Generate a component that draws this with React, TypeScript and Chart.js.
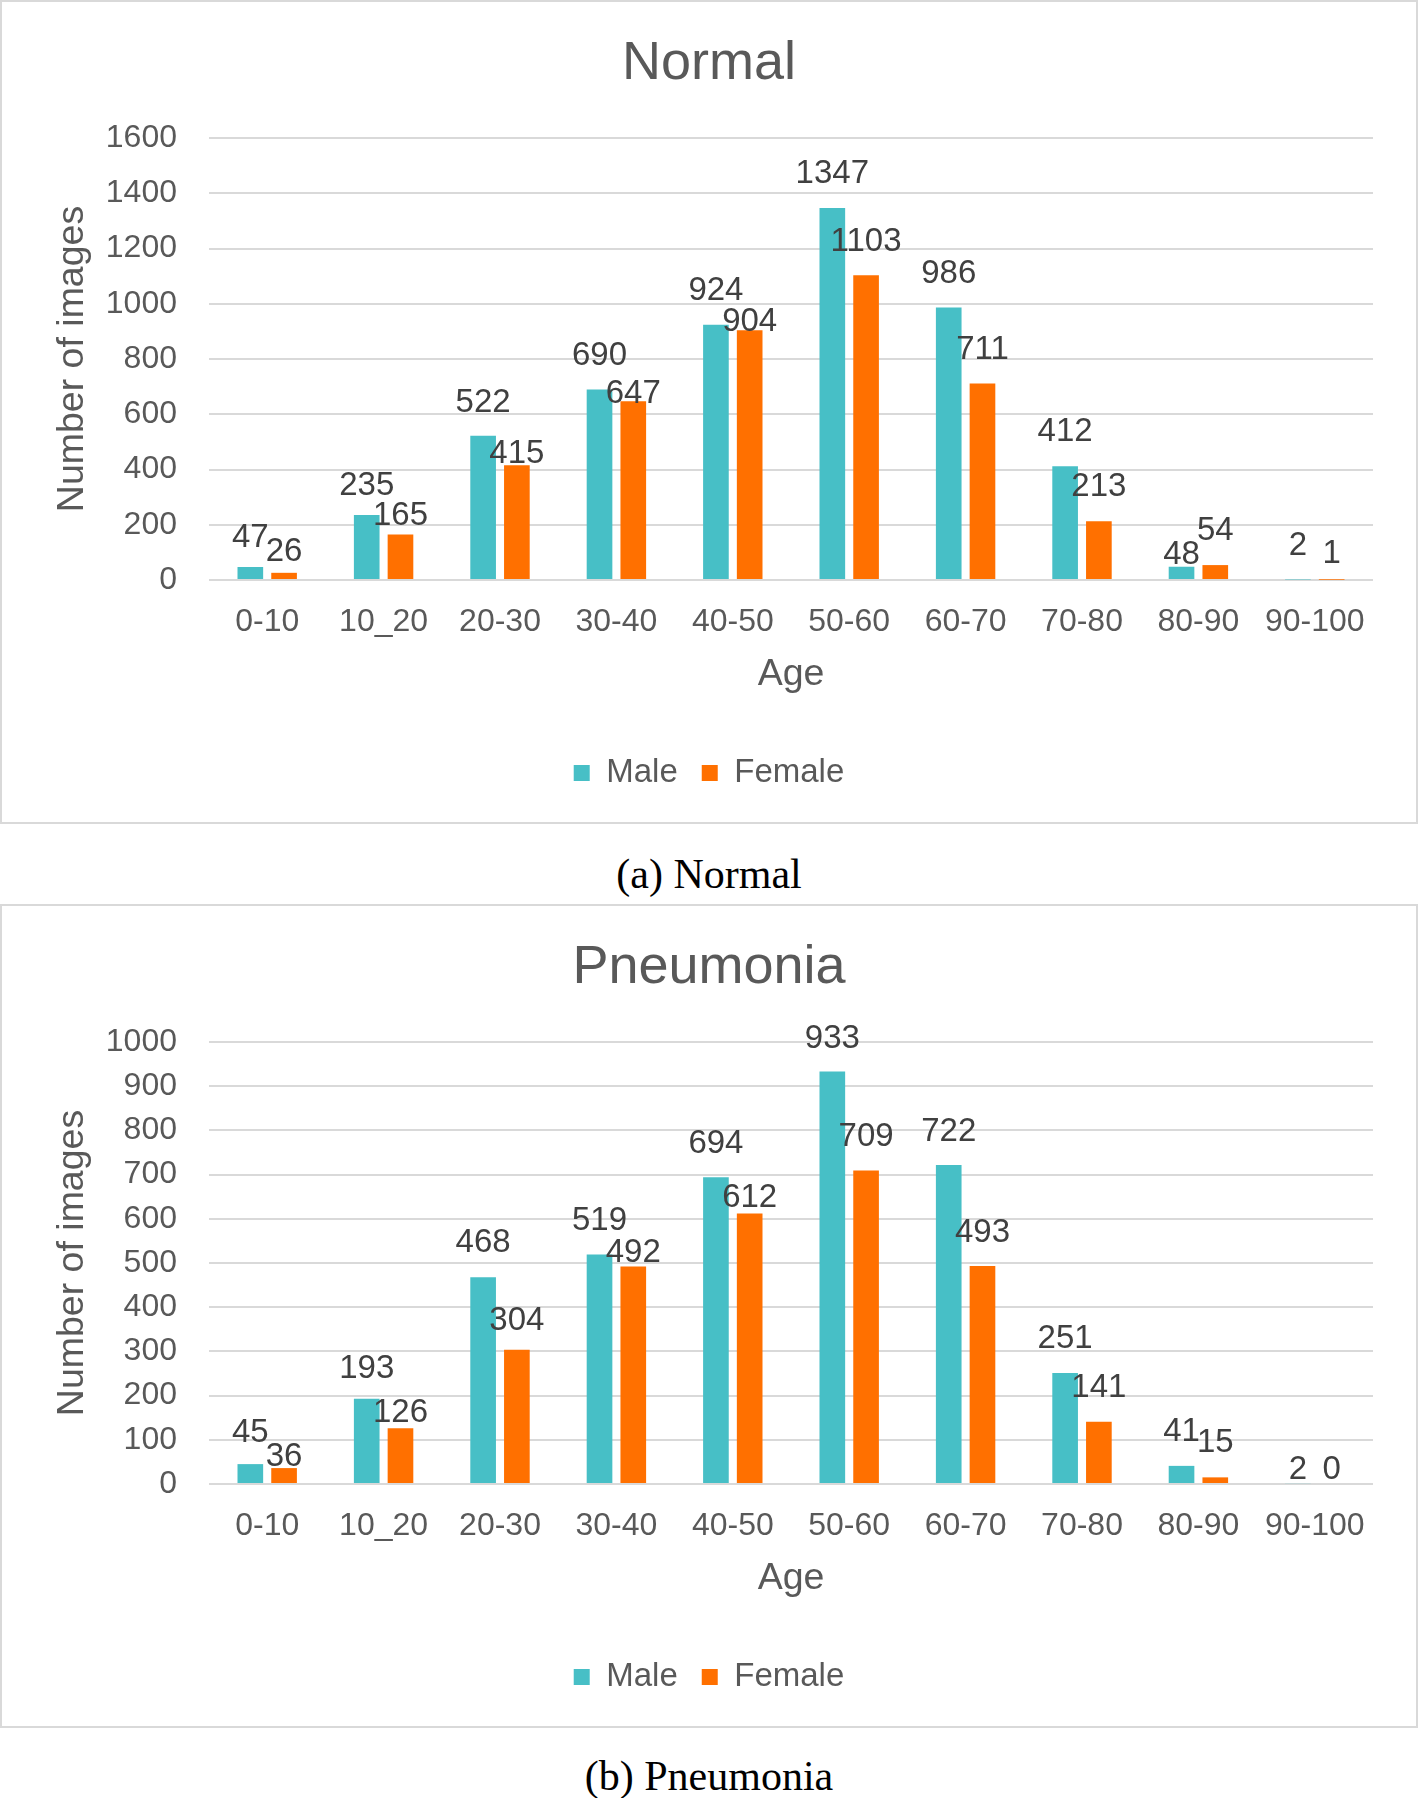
import React, { useEffect, useRef } from 'react';
import { Chart, registerables } from 'chart.js';

Chart.register(...registerables);

// ---------- data ----------
const categories = ['0-10', '10_20', '20-30', '30-40', '40-50', '50-60', '60-70', '70-80', '80-90', '90-100'];

const normalMale = [47, 235, 522, 690, 924, 1347, 986, 412, 48, 2];
const normalFemale = [26, 165, 415, 647, 904, 1103, 711, 213, 54, 1];

const pneumoniaMale = [45, 193, 468, 519, 694, 933, 722, 251, 41, 2];
const pneumoniaFemale = [36, 126, 304, 492, 612, 709, 493, 141, 15, 0];

const normalAxisMax = 1600;
const normalAxisStep = 200;
const pneumoniaAxisMax = 1000;
const pneumoniaAxisStep = 100;

// ---------- label placement (manual nudges of data labels, px downward) ----------
const normalMaleLabelNudge = [5, 5, 1, 1, 0, 0, 0, 0, 22, 1];
const normalFemaleLabelNudge = [13, 16, 23, 27, 26, 1, 0, 0, 0, 8];
const pneumoniaMaleLabelNudge = [3, 4, 0, 0, 1, 1, 1, 0, 0, 21];
const pneumoniaFemaleLabelNudge = [23, 19, 5, 20, 19, 0, 1, 0, 0, 20];

// ---------- styles ----------
const W = 1418;
const H = 824;
const FONT = "'Liberation Sans', Arial, sans-serif";
const TEXT = '#595959';
const LABEL = '#404040';
const TEAL = '#47BFC6';
const ORANGE = '#FF7000';
const GRID = '#d9d9d9';

const barLabelPlugin = {
  id: 'barLabels',
  afterDatasetsDraw(chart: any, _args: any, opts: any) {
    const ctx = chart.ctx;
    ctx.save();
    ctx.font = `33px ${FONT}`;
    ctx.fillStyle = LABEL;
    ctx.textAlign = 'center';
    ctx.textBaseline = 'alphabetic';
    chart.data.datasets.forEach((ds: any, di: number) => {
      const meta = chart.getDatasetMeta(di);
      const nudges = (opts && opts.nudges && opts.nudges[di]) || [];
      meta.data.forEach((bar: any, i: number) => {
        const v = ds.data[i];
        ctx.fillText(String(v), bar.x, bar.y - 25 + (nudges[i] || 0));
      });
    });
    ctx.restore();
  },
};

type PanelProps = {
  title: string;
  male: number[];
  female: number[];
  max: number;
  step: number;
  nudges: number[][];
};

function Panel({ title, male, female, max, step, nudges }: PanelProps) {
  const ref = useRef<HTMLCanvasElement | null>(null);
  useEffect(() => {
    if (!ref.current) return;
    const chart = new Chart(ref.current, {
      type: 'bar',
      data: {
        labels: categories,
        datasets: [
          {
            label: 'Male',
            data: male,
            backgroundColor: TEAL,
            borderWidth: 0,
            categoryPercentage: 0.58,
            barPercentage: 0.76,
          },
          {
            label: 'Female',
            data: female,
            backgroundColor: ORANGE,
            borderWidth: 0,
            categoryPercentage: 0.58,
            barPercentage: 0.76,
          },
        ],
      },
      options: {
        responsive: false,
        animation: false,
        devicePixelRatio: 1,
        layout: { padding: { top: 0, left: 45, right: 45, bottom: 24.5 } },
        plugins: {
          title: {
            display: true,
            text: title,
            color: TEXT,
            font: { family: FONT, size: 54, weight: 'normal', lineHeight: 1.2 },
            padding: { top: 32.1, bottom: 41.1 },
          },
          legend: {
            position: 'bottom',
            labels: {
              color: TEXT,
              font: { family: FONT, size: 33 },
              boxWidth: 16,
              boxHeight: 16,
              padding: 24,
            },
          },
          tooltip: { enabled: false },
          barLabels: { nudges },
        } as any,
        scales: {
          x: {
            grid: { display: false },
            border: { display: false },
            ticks: {
              color: TEXT,
              font: { family: FONT, size: 32 },
              padding: 15,
              maxRotation: 0,
              autoSkip: false,
            },
            title: {
              display: true,
              text: 'Age',
              color: TEXT,
              font: { family: FONT, size: 37.5 },
              padding: { top: 0, bottom: 35 },
            },
            afterFit: (s: any) => {
              s.height = 152.5;
            },
          },
          y: {
            min: 0,
            max,
            ticks: {
              stepSize: step,
              color: TEXT,
              font: { family: FONT, size: 32 },
              padding: 32,
              callback: (v: any) => String(v),
            },
            grid: { color: GRID, lineWidth: 2, drawTicks: false },
            border: { display: false },
            title: {
              display: true,
              text: 'Number of images',
              color: TEXT,
              font: { family: FONT, size: 37.5 },
              padding: { top: 5.5, bottom: 0 },
            },
            afterFit: (s: any) => {
              s.width = 164;
            },
          },
        },
      },
      plugins: [barLabelPlugin as any],
    } as any);
    return () => chart.destroy();
  }, [title, male, female, max, step, nudges]);

  return (
    <div style={{ position: 'relative', width: W, height: H }}>
      <div
        style={{
          position: 'absolute',
          left: 0,
          top: 0,
          width: W,
          height: H,
          boxSizing: 'border-box',
          border: `2px solid ${GRID}`,
          background: '#fff',
        }}
      />
      <canvas
        ref={ref}
        width={W}
        height={H}
        style={{ position: 'absolute', left: 0, top: 0, width: W, height: H }}
      />
    </div>
  );
}

const captionStyle: React.CSSProperties = {
  position: 'absolute',
  left: 0,
  width: W,
  height: 50,
  lineHeight: '50px',
  textAlign: 'center',
  fontFamily: "'Liberation Serif', 'DejaVu Serif', serif",
  fontSize: 42,
  color: '#000',
};

export default function App() {
  return (
    <div
      style={{
        position: 'absolute',
        left: 0,
        top: 0,
        width: W,
        height: 1798,
        background: '#fff',
        overflow: 'hidden',
      }}
    >
      <div style={{ position: 'absolute', left: 0, top: 0 }}>
        <Panel
          title="Normal"
          male={normalMale}
          female={normalFemale}
          max={normalAxisMax}
          step={normalAxisStep}
          nudges={[normalMaleLabelNudge, normalFemaleLabelNudge]}
        />
      </div>
      <div style={{ ...captionStyle, top: 849 }}>(a) Normal</div>
      <div style={{ position: 'absolute', left: 0, top: 904 }}>
        <Panel
          title="Pneumonia"
          male={pneumoniaMale}
          female={pneumoniaFemale}
          max={pneumoniaAxisMax}
          step={pneumoniaAxisStep}
          nudges={[pneumoniaMaleLabelNudge, pneumoniaFemaleLabelNudge]}
        />
      </div>
      <div style={{ ...captionStyle, top: 1751 }}>(b) Pneumonia</div>
    </div>
  );
}
